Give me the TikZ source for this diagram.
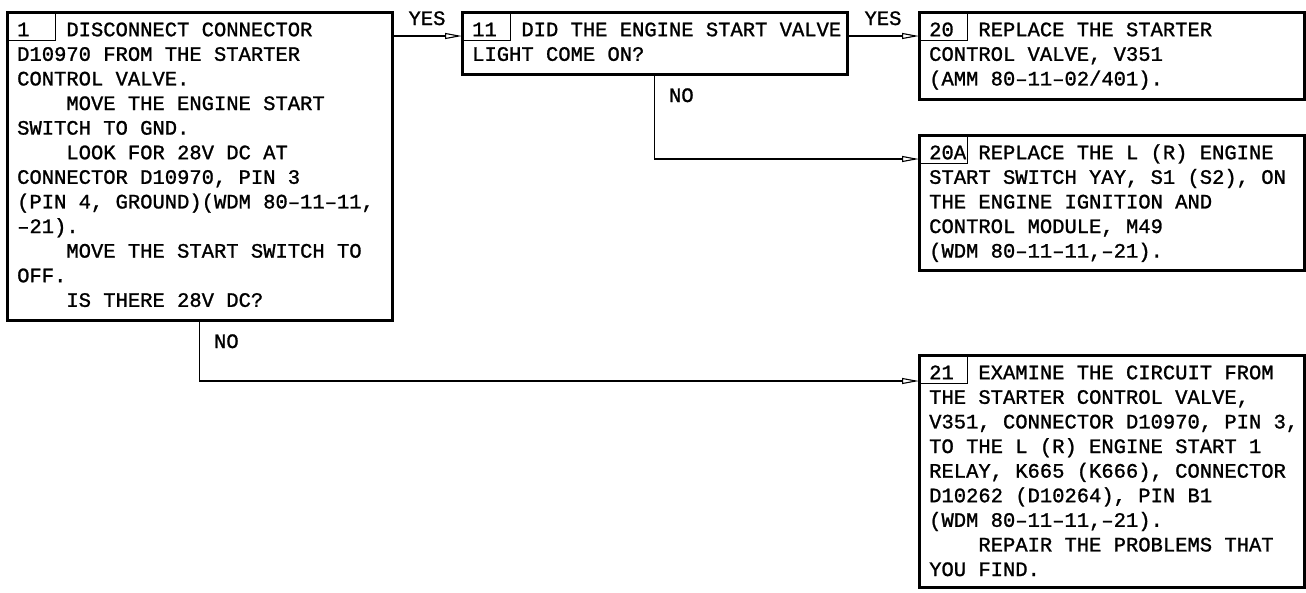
\documentclass[tikz,border=0pt]{standalone}
\usepackage{fontspec}
\setmonofont[FakeBold=1.2]{Liberation Mono}
\usetikzlibrary{arrows.meta}
\newcommand\cadfont{\ttfamily\fontsize{20.5pt}{24.6pt}\selectfont}
\newcommand\ind{\hspace*{4\fontcharwd\font`\M}}
\newcommand\stepno[1]{\strut\makebox[4\fontcharwd\font`\M][l]{#1}}

\begin{document}
\begin{tikzpicture}[x=1pt,y=-1pt,
  stepbox/.style={draw,line width=3pt,outer sep=0pt,inner sep=0pt,anchor=north west,minimum width=385pt},
  numbox/.style={draw,line width=1pt,outer sep=0pt,inner sep=0pt,anchor=north west,minimum width=48pt,minimum height=28pt},
  steptext/.style={font=\cadfont,align=left,anchor=north west,inner sep=0pt},
  yeslabel/.style={font=\cadfont,anchor=base,inner sep=0pt,yshift=11pt},
  nolabel/.style={font=\cadfont,anchor=base west,inner sep=0pt,xshift=14pt,yshift=-28pt},
  flow/.style={line width=1.1pt,-{Triangle[open,length=17pt,width=6pt]}}]
\useasboundingbox (0,0) rectangle (1306,592);
\node[stepbox,minimum height=308pt] (b1) at (7,12) {};
\node[stepbox,minimum height=62pt] (b11) at (462,12) {};
\node[stepbox,minimum height=87pt] (b20) at (919,12) {};
\node[stepbox,minimum height=135pt] (b20a) at (919,135) {};
\node[stepbox,minimum height=232pt] (b21) at (919,355) {};
\node[numbox] (n1) at (b1.north west) {};
\node[numbox] (n11) at (b11.north west) {};
\node[numbox] (n20) at (b20.north west) {};
\node[numbox] (n20a) at (b20a.north west) {};
\node[numbox] (n21) at (b21.north west) {};
\node[steptext] (t1) at ([xshift=10pt,yshift=-6.8pt]b1.north west) {\stepno{1}DISCONNECT CONNECTOR\\
D10970 FROM THE STARTER\\
CONTROL VALVE.\\
\ind MOVE THE ENGINE START\\
SWITCH TO GND.\\
\ind LOOK FOR 28V DC AT\\
CONNECTOR D10970, PIN 3\\
(PIN 4, GROUND)(WDM 80–11–11,\\
–21).\\
\ind MOVE THE START SWITCH TO\\
OFF.\\
\ind IS THERE 28V DC?};
\node[steptext] (t11) at ([xshift=10pt,yshift=-6.8pt]b11.north west) {\stepno{11}DID THE ENGINE START VALVE\\
LIGHT COME ON?};
\node[steptext] (t20) at ([xshift=10pt,yshift=-6.8pt]b20.north west) {\stepno{20}REPLACE THE STARTER\\
CONTROL VALVE, V351\\
(AMM 80–11–02/401).};
\node[steptext] (t20a) at ([xshift=10pt,yshift=-6.8pt]b20a.north west) {\stepno{20A}REPLACE THE L (R) ENGINE\\
START SWITCH YAY, S1 (S2), ON\\
THE ENGINE IGNITION AND\\
CONTROL MODULE, M49\\
(WDM 80–11–11,–21).};
\node[steptext] (t21) at ([xshift=10pt,yshift=-6.8pt]b21.north west) {\stepno{21}EXAMINE THE CIRCUIT FROM\\
THE STARTER CONTROL VALVE,\\
V351, CONNECTOR D10970, PIN 3,\\
TO THE L (R) ENGINE START 1\\
RELAY, K665 (K666), CONNECTOR\\
D10262 (D10264), PIN B1\\
(WDM 80–11–11,–21).\\
\ind REPAIR THE PROBLEMS THAT\\
YOU FIND.};
\draw[flow] ([yshift=-24pt]b1.north east) -- node[yeslabel] (y1) {YES} ([yshift=-24pt]b11.north west);
\draw[flow] ([yshift=-24pt]b11.north east) -- node[yeslabel] (y11) {YES} ([yshift=-24pt]b20.north west);
\draw[flow] (b11.south) |- node[at start,nolabel] (o11) {NO} ([yshift=-24pt]b20a.north west);
\draw[flow] (b1.south) |- node[at start,nolabel] (o1) {NO} ([yshift=-26pt]b21.north west);
\end{tikzpicture}
\end{document}
